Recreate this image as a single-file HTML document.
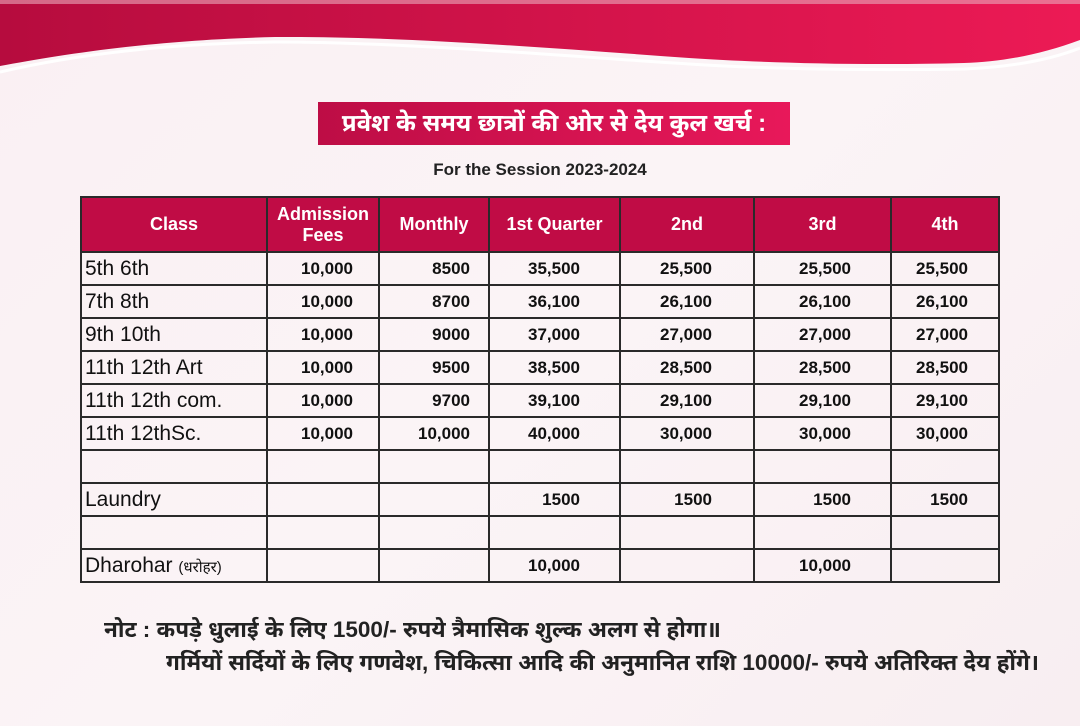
<!DOCTYPE html>
<html><head><meta charset="utf-8"><style>
body{margin:0;width:1080px;height:726px;overflow:hidden;background:linear-gradient(135deg,#faf0f3,#fbf4f6 50%,#f8eef1);font-family:"Liberation Sans","DejaVu Sans",sans-serif;position:relative}
.ban{position:absolute;left:0;top:0}
.title{position:absolute;left:318px;top:102px;width:472px;height:43px;background:linear-gradient(90deg,#bd0d45,#e8185a);color:#fff;font-size:24px;font-weight:bold;text-align:center;line-height:43px;font-family:"Liberation Sans","Noto Sans Devanagari","Lohit Devanagari","DejaVu Sans",sans-serif}
.sess{position:absolute;left:0;width:1080px;top:160px;text-align:center;font-weight:bold;font-size:17px;color:#222}
table{position:absolute;left:80px;top:196px;border-collapse:collapse;width:918px;table-layout:fixed}
td,th{border:2.5px solid #2a2a2a;padding:0 9px;height:31px;font-size:17px;font-weight:bold;text-align:right;color:#111;overflow:hidden;white-space:nowrap}
td:nth-child(2){padding-right:25px}
td:nth-child(3){padding-right:18px}
td:nth-child(4){padding-right:39px}
td:nth-child(5){padding-right:41px}
td:nth-child(6){padding-right:39px}
td:nth-child(7){padding-right:30px}
th{background:#c00c45;color:#fff;height:53px;text-align:center;font-size:18px;line-height:21px;padding:0 2px}
td.c{text-align:left;font-weight:normal;font-size:21px;padding-left:3px}
.note{position:absolute;font-size:22.5px;font-weight:bold;color:#222;font-family:"Liberation Sans","Noto Sans Devanagari","DejaVu Sans",sans-serif;white-space:nowrap}
</style></head><body>
<svg class="ban" width="1080" height="90" viewBox="0 0 1080 90">
<defs><linearGradient id="g" x1="0" x2="1"><stop offset="0" stop-color="#b60c3e"/><stop offset="1" stop-color="#ec1a55"/></linearGradient></defs>
<path d="M0 0H1080V40C1040 55 1000 62 964 63C850 66 750 62 689 58C550 48 400 36 275 37C150 40 60 55 0 66Z" fill="url(#g)"/>
<path d="M0 72C60 58 150 44 275 42C400 42 550 55 689 64C750 68 850 71 964 69C1010 67 1050 60 1080 48" fill="none" stroke="#fff" stroke-width="3"/>
<rect x="0" y="0" width="1080" height="4" fill="#e9a9bb" opacity=".6"/>
</svg>
<div class="title">प्रवेश के समय छात्रों की ओर से देय कुल खर्च :</div>
<div class="sess">For the Session 2023-2024</div>
<table>
<colgroup><col style="width:186px"><col style="width:112px"><col style="width:110px"><col style="width:131px"><col style="width:134px"><col style="width:137px"><col style="width:108px"></colgroup>
<tr><th>Class</th><th>Admission<br>Fees</th><th>Monthly</th><th>1st Quarter</th><th>2nd</th><th>3rd</th><th>4th</th></tr>
<tr><td class="c">5th 6th</td><td>10,000</td><td>8500</td><td>35,500</td><td>25,500</td><td>25,500</td><td>25,500</td></tr>
<tr><td class="c">7th 8th</td><td>10,000</td><td>8700</td><td>36,100</td><td>26,100</td><td>26,100</td><td>26,100</td></tr>
<tr><td class="c">9th 10th</td><td>10,000</td><td>9000</td><td>37,000</td><td>27,000</td><td>27,000</td><td>27,000</td></tr>
<tr><td class="c">11th 12th Art</td><td>10,000</td><td>9500</td><td>38,500</td><td>28,500</td><td>28,500</td><td>28,500</td></tr>
<tr><td class="c">11th 12th com.</td><td>10,000</td><td>9700</td><td>39,100</td><td>29,100</td><td>29,100</td><td>29,100</td></tr>
<tr><td class="c">11th 12thSc.</td><td>10,000</td><td>10,000</td><td>40,000</td><td>30,000</td><td>30,000</td><td>30,000</td></tr>
<tr><td class="c"></td><td></td><td></td><td></td><td></td><td></td><td></td></tr>
<tr><td class="c">Laundry</td><td></td><td></td><td>1500</td><td>1500</td><td>1500</td><td>1500</td></tr>
<tr><td class="c"></td><td></td><td></td><td></td><td></td><td></td><td></td></tr>
<tr><td class="c">Dharohar <span style="font-size:15px">(धरोहर)</span></td><td></td><td></td><td>10,000</td><td></td><td>10,000</td><td></td></tr>
</table>
<div class="note" style="left:104px;top:617px">नोट : कपड़े धुलाई के लिए 1500/- रुपये त्रैमासिक शुल्क अलग से होगा॥</div>
<div class="note" style="left:166px;top:650px">गर्मियों सर्दियों के लिए गणवेश, चिकित्सा आदि की अनुमानित राशि 10000/- रुपये अतिरिक्त देय होंगे।</div>
</body></html>
